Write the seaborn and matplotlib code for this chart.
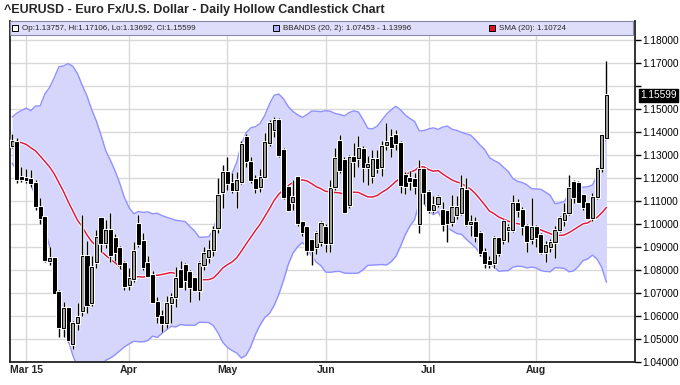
import numpy as np
import pandas as pd
import matplotlib
matplotlib.use("Agg")
import matplotlib.pyplot as plt
import matplotlib.patheffects as pe
import matplotlib.transforms as mtransforms
import seaborn as sns

# ---- data ----
# daily bars 25 Feb 2015 .. 24 Aug 2015, Good Friday (3 Apr) has no bar
dates = pd.bdate_range("2015-02-25", "2015-08-24")
dates = dates[dates != pd.Timestamp("2015-04-03")]

opens = [1.1340, 1.1358, 1.1206, 1.1200, 1.1195, 1.1180, 1.1075, 1.1030, 1.0840, 1.0852,
         1.0705, 1.0550, 1.0633, 1.0480, 1.0570, 1.0620, 1.0860, 1.0655, 1.0836, 1.1025,
         1.0916, 1.0974, 1.0940, 1.0895, 1.0830, 1.0735, 1.0760, 1.1000, 1.0925, 1.0830,
         1.0780, 1.0660, 1.0600, 1.0570, 1.0655, 1.0684, 1.0800, 1.0820, 1.0790, 1.0765,
         1.0715, 1.0822, 1.0858, 1.0887, 1.0983, 1.1140, 1.1227, 1.1180, 1.1148, 1.1184,
         1.1380, 1.1270, 1.1195, 1.1160, 1.1206, 1.1352, 1.1409, 1.1452, 1.1322, 1.1162,
         1.1097, 1.1206, 1.1010, 1.0988, 1.0930, 1.0901, 1.0923, 1.0988, 1.0916, 1.1162,
         1.1360, 1.1278, 1.1083, 1.1290, 1.1287, 1.1325, 1.1250, 1.1210, 1.1285, 1.1248,
         1.1343, 1.1380, 1.1387, 1.1352, 1.1215, 1.1200, 1.1195, 1.1000, 1.1240, 1.1140,
         1.1062, 1.1085, 1.1060, 1.1055, 1.1010, 1.1040, 1.1048, 1.1150, 1.1000, 1.1010,
         1.0960, 1.0880, 1.0840, 1.0830, 1.0939, 1.0930, 1.0975, 1.0974, 1.1091, 1.1061,
         1.0990, 1.0935, 1.0988, 1.0952, 1.0880, 1.0901, 1.0923, 1.0974, 1.1017, 1.1048,
         1.1184, 1.1178, 1.1126, 1.1091, 1.1026, 1.1119, 1.1243, 1.13757]
highs = [1.1390, 1.1375, 1.1249, 1.1240, 1.1235, 1.1190, 1.1114, 1.1035, 1.0900, 1.0855,
         1.0715, 1.0660, 1.0640, 1.0580, 1.0657, 1.1040, 1.0925, 1.0860, 1.0975, 1.1032,
         1.1017, 1.1050, 1.0955, 1.0905, 1.0840, 1.0807, 1.0920, 1.1040, 1.0962, 1.0860,
         1.0795, 1.0684, 1.0626, 1.0686, 1.0700, 1.0813, 1.0839, 1.0830, 1.0800, 1.0770,
         1.0840, 1.0900, 1.0930, 1.0990, 1.1200, 1.1257, 1.1293, 1.1222, 1.1227, 1.1360,
         1.1390, 1.1290, 1.1213, 1.1240, 1.1395, 1.1453, 1.1467, 1.1460, 1.1330, 1.1170,
         1.1190, 1.1210, 1.1015, 1.0990, 1.0935, 1.0970, 1.1015, 1.1000, 1.1190, 1.1330,
         1.1387, 1.1290, 1.1300, 1.1352, 1.1385, 1.1340, 1.1295, 1.1320, 1.1320, 1.1360,
         1.1439, 1.1412, 1.1410, 1.1360, 1.1225, 1.1230, 1.1220, 1.1280, 1.1245, 1.1150,
         1.1120, 1.1125, 1.1097, 1.1060, 1.1126, 1.1120, 1.1215, 1.1200, 1.1040, 1.1030,
         1.0970, 1.0895, 1.0860, 1.0950, 1.0945, 1.1020, 1.1000, 1.1126, 1.1110, 1.1075,
         1.1000, 1.1113, 1.0995, 1.0960, 1.0925, 1.0935, 1.0990, 1.1035, 1.1090, 1.1215,
         1.1190, 1.1185, 1.1130, 1.1095, 1.1135, 1.1250, 1.1390, 1.17106]
lows = [1.1330, 1.1180, 1.1184, 1.1178, 1.1160, 1.1060, 1.1000, 1.0835, 1.0820, 1.0695,
        1.0510, 1.0510, 1.0485, 1.0458, 1.0540, 1.0600, 1.0612, 1.0645, 1.0810, 1.0880,
        1.0896, 1.0836, 1.0840, 1.0805, 1.0712, 1.0714, 1.0750, 1.0900, 1.0800, 1.0770,
        1.0655, 1.0568, 1.0532, 1.0547, 1.0568, 1.0641, 1.0720, 1.0713, 1.0662, 1.0710,
        1.0670, 1.0800, 1.0830, 1.0860, 1.0961, 1.1070, 1.1148, 1.1135, 1.1070, 1.1175,
        1.1250, 1.1180, 1.1135, 1.1140, 1.1200, 1.1340, 1.1380, 1.1290, 1.1110, 1.1055,
        1.1062, 1.0990, 1.0950, 1.0865, 1.0822, 1.0870, 1.0905, 1.0880, 1.0880, 1.1150,
        1.1220, 1.1048, 1.1070, 1.1206, 1.1250, 1.1184, 1.1170, 1.1180, 1.1220, 1.1210,
        1.1320, 1.1291, 1.1320, 1.1135, 1.1130, 1.1150, 1.1130, 1.0960, 1.1085, 1.1050,
        1.1050, 1.1075, 1.0970, 1.0923, 1.0990, 1.1020, 1.1040, 1.0990, 1.0950, 1.0920,
        1.0860, 1.0810, 1.0808, 1.0810, 1.0860, 1.0915, 1.0920, 1.0965, 1.1030, 1.0952,
        1.0880, 1.0915, 1.0900, 1.0870, 1.0836, 1.0880, 1.0852, 1.0965, 1.0990, 1.1040,
        1.1090, 1.1095, 1.1060, 1.1020, 1.1015, 1.1110, 1.1225, 1.13692]
closes = [1.1362, 1.1195, 1.1195, 1.1190, 1.1180, 1.1080, 1.1028, 1.0843, 1.0852, 1.0700,
          1.0552, 1.0633, 1.0496, 1.0570, 1.0597, 1.0860, 1.0650, 1.0815, 1.0945, 1.0916,
          1.0974, 1.0865, 1.0880, 1.0825, 1.0730, 1.0765, 1.0884, 1.0915, 1.0815, 1.0775,
          1.0662, 1.0600, 1.0570, 1.0655, 1.0684, 1.0765, 1.0728, 1.0757, 1.0728, 1.0715,
          1.0830, 1.0874, 1.0887, 1.0974, 1.1126, 1.1227, 1.1180, 1.1148, 1.1190, 1.1350,
          1.1272, 1.1192, 1.1157, 1.1206, 1.1358, 1.1439, 1.1452, 1.1300, 1.1119, 1.1061,
          1.1119, 1.1003, 1.0967, 1.0887, 1.0887, 1.0961, 1.1004, 1.0916, 1.1157, 1.1287,
          1.1235, 1.1054, 1.1293, 1.1275, 1.1330, 1.1250, 1.1262, 1.1285, 1.1245, 1.1340,
          1.1358, 1.1336, 1.1352, 1.1170, 1.1165, 1.1185, 1.1165, 1.1240, 1.1140, 1.1062,
          1.1083, 1.1118, 1.0998, 1.1005, 1.1075, 1.1075, 1.1157, 1.1000, 1.1010, 1.0950,
          1.0875, 1.0830, 1.0825, 1.0939, 1.0874, 1.1015, 1.0985, 1.1091, 1.1061, 1.0990,
          1.0925, 1.0985, 1.0945, 1.0880, 1.0909, 1.0923, 1.0974, 1.1025, 1.1048, 1.1157,
          1.1119, 1.1097, 1.1075, 1.1026, 1.1119, 1.1243, 1.1387, 1.15599]

# closes of the 19 sessions before 25 Feb, needed for the 20-day SMA / BBANDS
warmup_closes = [1.1320, 1.1290, 1.1340, 1.1475, 1.1345, 1.1480, 1.1315, 1.1320, 1.1310, 1.1330,
                 1.1400, 1.1390, 1.1370, 1.1410, 1.1410, 1.1370, 1.1380, 1.1330, 1.1350]

month_labels = ["Mar 15", "Apr", "May", "Jun", "Jul", "Aug"]
price_ticks = np.arange(1.04, 1.1801, 0.01)

title = "^EURUSD - Euro Fx/U.S. Dollar - Daily Hollow Candlestick Chart"
legend_ohlc = "Op:1.13757, Hi:1.17106, Lo:1.13692, Cl:1.15599"
legend_bb = "BBANDS (20, 2): 1.07453 - 1.13996"
legend_sma = "SMA (20): 1.10724"
last_close_label = "1.15599"

# ---- indicators ----
df = pd.DataFrame({"date": dates, "open": opens, "high": highs, "low": lows, "close": closes})
df["x"] = np.arange(len(df))
allc = pd.Series(warmup_closes + closes)
n_w = len(warmup_closes)
df["sma"] = allc.rolling(20).mean().iloc[n_w:].to_numpy()
sd = allc.rolling(20).std(ddof=0).iloc[n_w:].to_numpy()
df["upper"] = df["sma"] + 2 * sd
df["lower"] = df["sma"] - 2 * sd

# first bar of each month from March on
first_of_month = df.groupby(df["date"].dt.to_period("M"))["x"].min().to_numpy()[1:]

# ---- figure ----
sns.set_style("white")
plt.rcParams["font.family"] = ["Liberation Sans", "DejaVu Sans"]

fig = plt.figure(figsize=(6.8, 3.85), dpi=100)
W, H = 680, 385
ax = fig.add_axes([10 / W, 1 - 362 / H, 625 / W, 341 / H])

ymin, ymax = 1.04, 1.1883
ax.set_xlim(-0.45, 133.1)
ax.set_ylim(ymin, ymax)

grid_c = "#d8d8d8"
for p in price_ticks:
    ax.axhline(p, color=grid_c, lw=1.0, zorder=0)
for m in first_of_month:
    ax.axvline(m, color=grid_c, lw=1.0, zorder=0)

# bollinger band
ax.fill_between(df["x"], df["lower"], df["upper"], color="#d6d6fd", lw=0, zorder=1)
sns.lineplot(data=df, x="x", y="upper", color="#9090ff", lw=1.0, ax=ax, zorder=2)
sns.lineplot(data=df, x="x", y="lower", color="#9090ff", lw=1.0, ax=ax, zorder=2)
sns.lineplot(data=df, x="x", y="sma", color="#dd1a45", lw=1.1, ax=ax, zorder=3,
             path_effects=[pe.withStroke(linewidth=2.4, foreground="white")])

# candles
halo = [pe.withStroke(linewidth=2.4, foreground="white")]
up = df["close"] >= df["open"]
ax.vlines(df["x"], df["low"], df["high"], color="black", lw=1.0, zorder=4, path_effects=halo)
body_lo = np.minimum(df["open"], df["close"])
body_h = (df["close"] - df["open"]).abs().clip(lower=0.0004)
fills = np.where(up, "#a0a0a0", "black")
bars = ax.bar(df["x"], body_h, bottom=body_lo, width=0.66, color=fills,
              edgecolor="black", lw=0.7, zorder=5)
for b in bars:
    b.set_path_effects([pe.withStroke(linewidth=2.0, foreground="white")])

# axes
ax.spines["top"].set_visible(False)
for s in ["left", "bottom", "right"]:
    ax.spines[s].set_color("#222222")
    ax.spines[s].set_linewidth(1.3)
ax.yaxis.tick_right()
ax.set_yticks(price_ticks)
# the label under the last-price tag is left out, as on the original
ax.set_yticklabels(["" if abs(p - 1.16) < 1e-6 else f"{p:.5f}" for p in price_ticks])
ax.tick_params(axis="y", which="both", direction="out", length=4, width=1,
               labelsize=7.3, pad=1.5, colors="black")
ax.set_xticks(first_of_month)
ax.set_xticklabels(month_labels, fontweight="bold")
ax.tick_params(axis="x", direction="in", length=3, width=1, labelsize=7.5, pad=2.5)
ax.set_xlabel("")
ax.set_ylabel("")

# last price tag
trans = mtransforms.blended_transform_factory(ax.transAxes, ax.transData)
ax.text(1.008, closes[-1], last_close_label, transform=trans, color="white", fontsize=7.3,
        va="center", ha="left",
        bbox=dict(boxstyle="square,pad=0.12", fc="black", ec="black"))

# legend strip
leg_y0, leg_y1 = 21, 35
ax.add_patch(plt.Rectangle((10 / W, 1 - leg_y1 / H), 623 / W, (leg_y1 - leg_y0) / H,
                           transform=fig.transFigure, facecolor="#dedefa",
                           edgecolor="#8888aa", lw=0.8, zorder=6, clip_on=False))
ly = 1 - (leg_y0 + leg_y1) / 2 / H
sq = 6
for x0, fc, txt in [(12, "white", legend_ohlc), (273, "#b0b0ff", legend_bb), (489, "#dd1122", legend_sma)]:
    ax.add_patch(plt.Rectangle((x0 / W, ly - sq / 2 / H), sq / W, sq / H,
                               transform=fig.transFigure, facecolor=fc,
                               edgecolor="black", lw=0.7, zorder=7, clip_on=False))
    fig.text((x0 + sq + 4) / W, ly, txt, fontsize=5.8, va="center", ha="left", zorder=8)

fig.text(4 / W, 1 - 10 / H, title, fontsize=9, fontweight="bold", va="center", ha="left")

fig.savefig("out.png", dpi=100)
